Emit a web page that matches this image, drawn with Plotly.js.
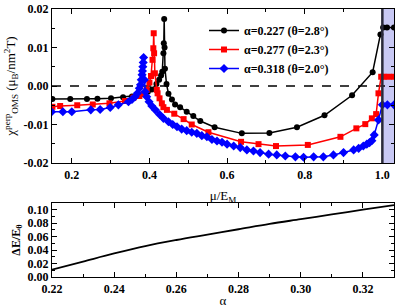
<!DOCTYPE html>
<html><head><meta charset="utf-8">
<script src="https://cdn.plot.ly/plotly-3.0.1.min.js"></script>
<style>html,body{margin:0;padding:0;background:#fff}#c{width:399px;height:308px}</style>
</head><body><div id="c"></div>
<script>
// Top panel: chi_perp_OMS vs mu/E_M
const muBlack = [0.15,0.196,0.239,0.266,0.301,0.332,0.355,0.372,0.386,0.396,0.406,0.418,0.425,0.430,0.433,0.436,0.437,0.438,0.439,0.440,0.444,0.449,0.458,0.466,0.479,0.496,0.513,0.531,0.568,0.638,0.709,0.780,0.851,0.922,0.975,0.995,1.002,1.012,1.03];
const chiBlack = [-0.0034,-0.0034,-0.0034,-0.0033,-0.0032,-0.0029,-0.0027,-0.0024,-0.0020,-0.0015,-0.0009,0.0005,0.0016,0.0027,0.0037,0.0085,0.0111,0.0174,0.0100,0.0045,0.0005,-0.0020,-0.0035,-0.0048,-0.0055,-0.0067,-0.0078,-0.0091,-0.0107,-0.0123,-0.0122,-0.0107,-0.0076,-0.0024,0.0036,0.0134,0.0152,0.0152,0.0152];

const muRed = [0.15,0.17,0.214,0.254,0.297,0.337,0.359,0.374,0.385,0.393,0.400,0.404,0.408,0.410,0.411,0.412,0.414,0.419,0.421,0.426,0.432,0.436,0.445,0.464,0.488,0.509,0.552,0.636,0.681,0.726,0.808,0.892,0.933,0.956,0.973,0.984,0.990,0.997,1.003,1.016,1.03];
const chiRed = [-0.0054,-0.0052,-0.0050,-0.0048,-0.0045,-0.0039,-0.0030,-0.0026,-0.0021,-0.0010,0.0009,0.0026,0.0068,0.0098,0.0137,0.0085,0.0033,-0.0010,-0.0019,-0.0032,-0.0045,-0.0055,-0.0062,-0.0072,-0.0086,-0.0100,-0.0120,-0.0145,-0.0151,-0.0156,-0.0153,-0.0132,-0.0110,-0.0099,-0.0084,-0.0073,-0.0019,0.0024,0.0024,0.0024,0.0024];

const muBlue = [0.148,0.177,0.200,0.249,0.273,0.299,0.320,0.346,0.355,0.363,0.369,0.374,0.377,0.379,0.381,0.382,0.383,0.384,0.385,0.387,0.389,0.393,0.399,0.406,0.415,0.426,0.436,0.449,0.460,0.471,0.483,0.496,0.509,0.522,0.535,0.548,0.561,0.574,0.587,0.600,0.617,0.634,0.651,0.668,0.685,0.707,0.728,0.750,0.776,0.797,0.823,0.848,0.874,0.900,0.926,0.939,0.951,0.960,0.967,0.973,0.979,0.990,1.000,1.013,1.03];
const chiBlue = [-0.0067,-0.0067,-0.0067,-0.0062,-0.0061,-0.0056,-0.0049,-0.0041,-0.0035,-0.0028,-0.0019,-0.0006,0.0003,0.0016,0.0029,0.0039,0.0050,0.0061,0.0074,0.0016,-0.0015,-0.0028,-0.0041,-0.0052,-0.0062,-0.0074,-0.0084,-0.0093,-0.0100,-0.0106,-0.0112,-0.0116,-0.0120,-0.0123,-0.0129,-0.0132,-0.0139,-0.0143,-0.0146,-0.0151,-0.0156,-0.0160,-0.0166,-0.0169,-0.0173,-0.0177,-0.0179,-0.0182,-0.0184,-0.0185,-0.0184,-0.0184,-0.0179,-0.0173,-0.0166,-0.0162,-0.0156,-0.0151,-0.0147,-0.0142,-0.0127,-0.0088,-0.0049,-0.0049,-0.0049];

const seriesNames = ['α=0.227 (θ=2.8°)','α=0.277 (θ=2.3°)','α=0.318 (θ=2.0°)'];
const chiTickVals = [-0.02,-0.01,0,0.01,0.02];
const chiTickText = ['-0.02','-0.01','0.00','0.01','0.02'];

// Bottom panel: dE/E_theta vs alpha
const alphaVals = [0.22,0.23,0.24,0.25,0.26,0.27,0.28,0.29,0.30,0.31,0.32,0.33];
const dEVals = [0.011,0.023,0.035,0.046,0.055,0.063,0.071,0.079,0.086,0.093,0.100,0.107];

const serif = 'Liberation Serif, Times New Roman, serif';
const tickFont = {family: serif, size: 12, color: '#000', weight: 'bold'};

function tr(x, y, name, color, symbol, size) {
  return {x: x, y: y, name: name, type: 'scatter', mode: 'lines+markers', xaxis: 'x', yaxis: 'y',
    line: {color: color, width: 1.5}, marker: {color: color, symbol: symbol, size: size}};
}
const data = [
  tr(muBlack, chiBlack, seriesNames[0], '#000000', 'circle', 6),
  tr(muRed, chiRed, seriesNames[1], '#ff0000', 'square', 6),
  tr(muBlue, chiBlue, seriesNames[2], '#0000ff', 'diamond', 7),
  {x: alphaVals, y: dEVals, type: 'scatter', mode: 'lines', xaxis: 'x2', yaxis: 'y2', showlegend: false,
   line: {color: '#000', width: 1.8, shape: 'spline'}}
];

const axBase = {showline: true, linecolor: '#000', linewidth: 1.2, mirror: 'ticks', ticks: 'inside',
  ticklen: 5, tickwidth: 1, tickcolor: '#000', showgrid: false, zeroline: false, tickfont: tickFont};

const layout = {
  width: 399, height: 308, margin: {l: 0, r: 0, t: 0, b: 0},
  paper_bgcolor: '#fff', plot_bgcolor: '#fff', showlegend: true,
  font: {family: serif, color: '#000'},
  xaxis: Object.assign({}, axBase, {domain: [52/399, 394/399], range: [0.149, 1.03], dtick: 0.2, tick0: 0,
    tickformat: '.1f', minor: {dtick: 0.1, ticks: 'inside', ticklen: 3, tickcolor: '#000'},
    anchor: 'y', title: {text: 'μ/E<sub>M</sub>', font: {family: serif, size: 13}, standoff: 10}}),
  yaxis: Object.assign({}, axBase, {domain: [1-163/308, 1-9/308], range: [-0.02, 0.02],
    tickmode: 'array', tickvals: chiTickVals, ticktext: chiTickText,
    minor: {dtick: 0.005, ticks: 'inside', ticklen: 3, tickcolor: '#000'}, anchor: 'x',
    title: {text: 'χ<sup>perp</sup><sub>OMS</sub> (μ<sub>B</sub>/nm<sup>2</sup>T)', font: {family: serif, size: 13}, standoff: 4}}),
  xaxis2: Object.assign({}, axBase, {domain: [52/399, 394/399], range: [0.22, 0.33], dtick: 0.02,
    tickformat: '.2f', minor: {dtick: 0.01, ticks: 'inside', ticklen: 3, tickcolor: '#000'}, anchor: 'y2',
    title: {text: 'α', font: {family: serif, size: 13}, standoff: 2}}),
  yaxis2: Object.assign({}, axBase, {domain: [1-277/308, 1-203/308], range: [0, 0.11], dtick: 0.02,
    tickformat: '.2f', minor: {dtick: 0.01, ticks: 'inside', ticklen: 3, tickcolor: '#000'}, anchor: 'x2',
    title: {text: '<b>ΔE/E<sub>θ</sub></b>', font: {family: serif, size: 12}, standoff: 4}}),
  shapes: [
    {type: 'rect', xref: 'x', yref: 'y', x0: 1.0, x1: 1.03, y0: -0.02, y1: 0.02, fillcolor: '#c8c8f4',
     line: {width: 0}, layer: 'below'},
    {type: 'line', xref: 'x', yref: 'y', x0: 1.0, x1: 1.0, y0: -0.02, y1: 0.02, line: {color: '#2a2a3a', width: 2.5}},
    {type: 'line', xref: 'x', yref: 'y', x0: 0.149, x1: 1.03, y0: 0, y1: 0, line: {color: '#000', width: 1.5, dash: 'dash'}, layer: 'below'}
  ],
  legend: {x: 204/399, xanchor: 'left', y: 1-16/308, yanchor: 'top', bgcolor: 'rgba(0,0,0,0)',
    font: {family: serif, size: 12, weight: 'bold'}, itemwidth: 30, tracegroupgap: 0}
};
Plotly.newPlot('c', data, layout, {displayModeBar: false, staticPlot: true});
</script></body></html>
